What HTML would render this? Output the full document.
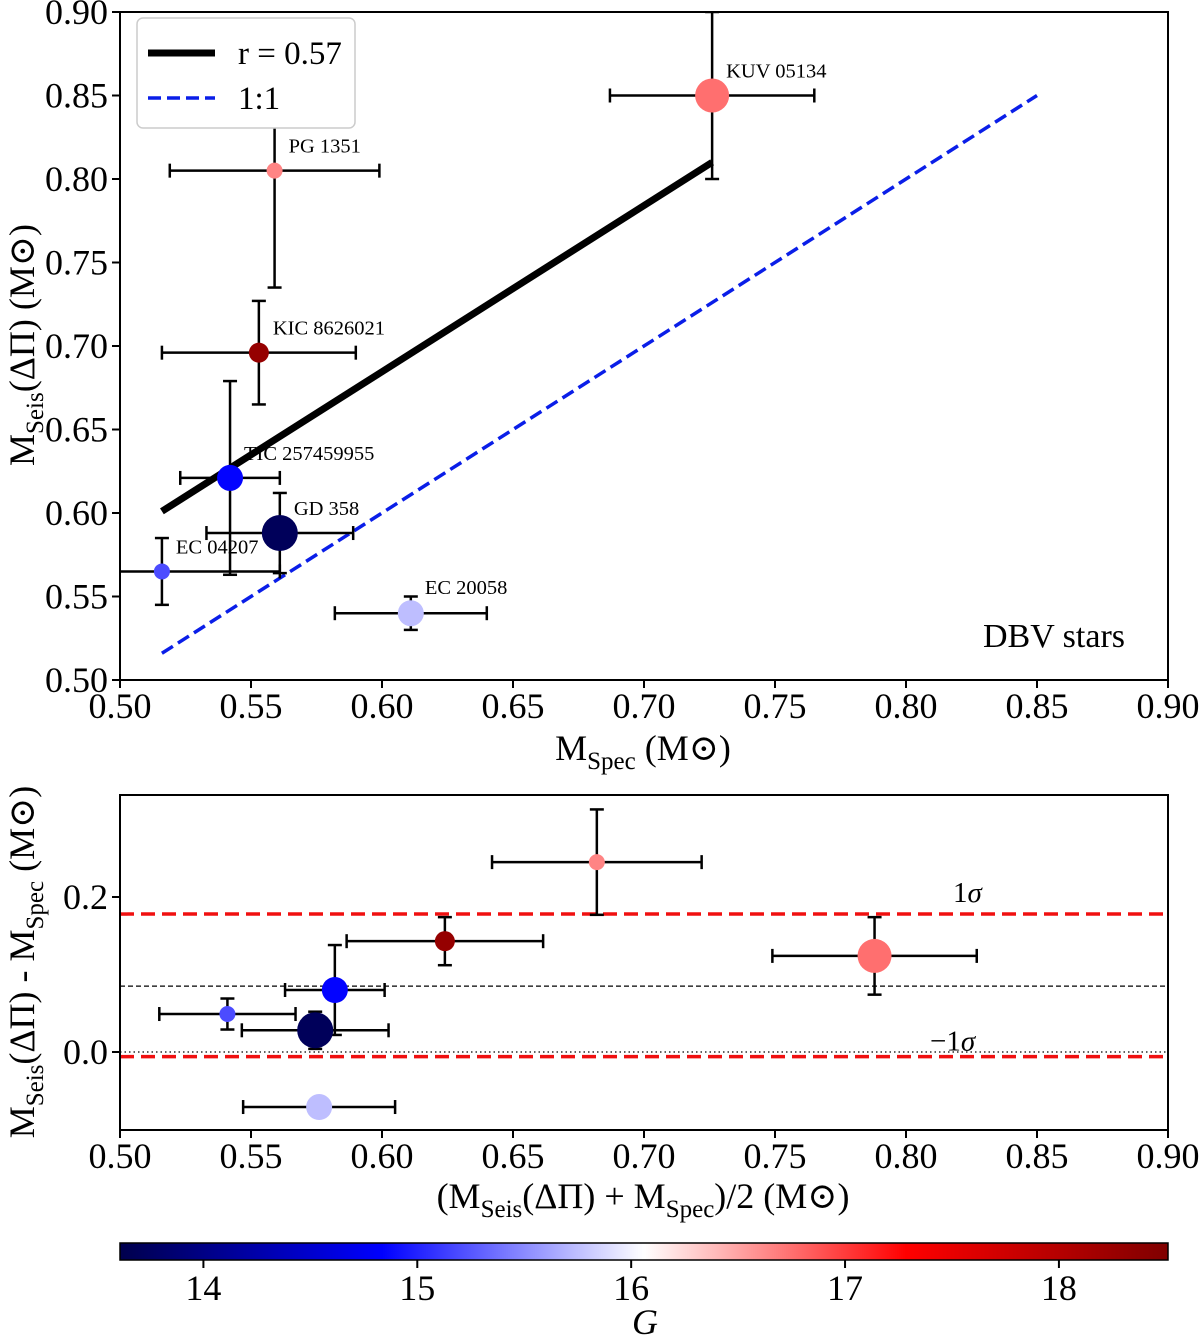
<!DOCTYPE html>
<html><head><meta charset="utf-8">
<style>
html,body{margin:0;padding:0;background:#fff;}
svg{display:block;font-family:"Liberation Serif","DejaVu Serif",serif;}
</style></head>
<body>
<svg id="fig" width="1200" height="1340" viewBox="0 0 1200 1340" xmlns="http://www.w3.org/2000/svg">
<defs><linearGradient id="cbgrad" x1="0" x2="1" y1="0" y2="0"></linearGradient></defs>
</svg>
<script>
// ---- data ----
const starNames = ["KUV 05134","PG 1351","KIC 8626021","TIC 257459955","GD 358","EC 04207","EC 20058"];
const mSpec = [0.726,0.559,0.553,0.542,0.561,0.516,0.611];
const mSpecErr = [0.039,0.040,0.037,0.019,0.028,0.045,0.029];
const mSeis = [0.850,0.805,0.696,0.621,0.588,0.565,0.540];
const mSeisErr = [0.050,0.070,0.031,0.058,0.024,0.020,0.010];
const gMag = [16.75,16.65,18.3,14.85,13.7,15.2,15.75];
const markerR = [17,8,10,13,18,8,13];
const meanX = [0.788,0.682,0.624,0.582,0.5745,0.541,0.576];
const meanXErr = [0.039,0.040,0.0375,0.019,0.028,0.026,0.029];
const diffY = [0.124,0.245,0.143,0.080,0.028,0.049,-0.071];
const diffYErr = [0.050,0.068,0.031,0.058,0.024,0.020,0.010];
const fitX = [0.516,0.726];
const fitY = [0.601,0.810];
const oneX = [0.516,0.85];
const oneY = [0.516,0.85];
const sigmaLines = [0.178,-0.006];
const meanLine = [0.085];
const xTicks = [0.50,0.55,0.60,0.65,0.70,0.75,0.80,0.85,0.90];
const yTicksTop = [0.50,0.55,0.60,0.65,0.70,0.75,0.80,0.85,0.90];
const yTicksBot = [0.0,0.2];
const cbTicks = [14,15,16,17,18];
const gRange = [13.61,18.51];

// ---- helpers ----
const NS="http://www.w3.org/2000/svg";
const svg=document.getElementById('fig');
function mk(tag,attrs,parent){const e=document.createElementNS(NS,tag);for(const k in attrs)e.setAttribute(k,attrs[k]);(parent||svg).appendChild(e);return e;}
function lin(d0,d1,r0,r1){return v=>r0+(v-d0)*(r1-r0)/(d1-d0);}
function seismic(t){
  const st=[[0,0,0,0.3],[0.25,0,0,1],[0.5,1,1,1],[0.75,1,0,0],[1,0.5,0,0]];
  t=Math.max(0,Math.min(1,t));
  for(let i=0;i<4;i++){const a=st[i],b=st[i+1];if(t<=b[0]){const f=(t-a[0])/(b[0]-a[0]);
    return 'rgb('+[1,2,3].map(j=>Math.round(255*(a[j]+f*(b[j]-a[j])))).join(',')+')';}}
  return 'rgb(128,0,0)';
}
const gNorm=lin(gRange[0],gRange[1],0,1);

// ---- top panel ----
const X1=lin(0.5,0.9,120,1168), Y1=lin(0.5,0.9,680,12);
const topG=mk('g',{});


const clip=mk('clipPath',{id:'c1'});mk('rect',{x:120,y:12,width:1048,height:668},clip);
const clip2=mk('clipPath',{id:'c2'});mk('rect',{x:120,y:795,width:1048,height:335},clip2);

const fitLine=mk('line',{x1:X1(fitX[0]),y1:Y1(fitY[0]),x2:X1(fitX[1]),y2:Y1(fitY[1]),stroke:'#000','stroke-width':7},topG);


const oneLine=mk('line',{x1:X1(oneX[0]),y1:Y1(oneY[0]),x2:X1(oneX[1]),y2:Y1(oneY[1]),stroke:'#0a1ee8','stroke-width':3.5,'stroke-dasharray':'13,6'},topG);



function errPoint(g,X,Y,x,xe,y,ye,r,col,name,clipId){
  const grp=mk('g',{'clip-path':'url(#'+clipId+')'},g);
  
  
  const s={stroke:'#000','stroke-width':2.5};
  mk('line',Object.assign({x1:X(x-xe),x2:X(x+xe),y1:Y(y),y2:Y(y)},s),grp);
  mk('line',Object.assign({x1:X(x),x2:X(x),y1:Y(y-ye),y2:Y(y+ye)},s),grp);
  [[X(x-xe),Y(y),0],[X(x+xe),Y(y),0],[X(x),Y(y-ye),1],[X(x),Y(y+ye),1]].forEach(c=>{
    if(c[2]) mk('line',Object.assign({x1:c[0]-7,x2:c[0]+7,y1:c[1],y2:c[1]},s),grp);
    else mk('line',Object.assign({x1:c[0],x2:c[0],y1:c[1]-7,y2:c[1]+7},s),grp);
  });
  mk('circle',{cx:X(x),cy:Y(y),r:r,fill:col},grp);
}
for(let i=0;i<starNames.length;i++){
  errPoint(topG,X1,Y1,mSpec[i],mSpecErr[i],mSeis[i],mSeisErr[i],markerR[i],seismic(gNorm(gMag[i])),'star-point-top','c1');
  const t=mk('text',{x:X1(mSpec[i])+14,y:Y1(mSeis[i])-(i==6?3:18)-(i==6?16:0),'font-size':20.5},topG);
  t.textContent=starNames[i];
  
  
}
// legend
const leg=mk('g',{},topG);


mk('rect',{x:137,y:18,width:218,height:110,rx:6,fill:'#fff',stroke:'#ccc','stroke-width':1.5},leg);
mk('line',{x1:148,x2:215,y1:53,y2:53,stroke:'#000','stroke-width':7},leg);
let lt=mk('text',{x:238,y:64,'font-size':33},leg);lt.textContent='r = 0.57';
mk('line',{x1:148,x2:215,y1:98,y2:98,stroke:'#0a1ee8','stroke-width':3.5,'stroke-dasharray':'13,6'},leg);
lt=mk('text',{x:238,y:109,'font-size':33},leg);lt.textContent='1:1';
const dbv=mk('text',{x:1125,y:647,'font-size':34,'text-anchor':'end'},topG);dbv.textContent='DBV stars';



function frame(g,x0,y0,x1,y1){mk('rect',{x:x0,y:y0,width:x1-x0,height:y1-y0,fill:'none',stroke:'#000','stroke-width':2},g);}
frame(topG,120,12,1168,680);
xTicks.forEach(v=>{mk('line',{x1:X1(v),x2:X1(v),y1:680,y2:688,stroke:'#000','stroke-width':2},topG);
  const t=mk('text',{x:X1(v),y:718,'font-size':36,'text-anchor':'middle'},topG);t.textContent=v.toFixed(2);
  
  });
yTicksTop.forEach(v=>{mk('line',{x1:112,x2:120,y1:Y1(v),y2:Y1(v),stroke:'#000','stroke-width':2},topG);
  const t=mk('text',{x:108,y:Y1(v)+12,'font-size':36,'text-anchor':'end'},topG);t.textContent=v.toFixed(2);
  
  });
let xl=mk('text',{x:643,y:760,'font-size':36,'text-anchor':'middle'},topG);
xl.innerHTML='M<tspan font-size="25" dy="9">Spec</tspan><tspan dy="-9"> (M⊙)</tspan>';


let yl=mk('text',{x:0,y:0,'font-size':36,'text-anchor':'middle',transform:'translate(34,345) rotate(-90)'},topG);
yl.innerHTML='M<tspan font-size="25" dy="9">Seis</tspan><tspan dy="-9">(ΔΠ) (M⊙)</tspan>';



// ---- bottom panel ----
const X2=lin(0.5,0.9,120,1168), Y2=lin(0,0.2,1052,897);
const bot=mk('g',{});


sigmaLines.forEach(v=>{const l=mk('line',{x1:120,x2:1168,y1:Y2(v),y2:Y2(v),stroke:'#f01010','stroke-width':3.5,'stroke-dasharray':'14,7'},bot);
  
  });
meanLine.forEach(v=>{const l=mk('line',{x1:120,x2:1168,y1:Y2(v),y2:Y2(v),stroke:'#000','stroke-width':1.3,'stroke-dasharray':'5,3'},bot);
  
  });
const zl=mk('line',{x1:120,x2:1168,y1:Y2(0),y2:Y2(0),stroke:'#000','stroke-width':1.3,'stroke-dasharray':'1.5,3'},bot);


let s1=mk('text',{x:953,y:Y2(sigmaLines[0])-12,'font-size':29},bot);s1.innerHTML='1<tspan font-style="italic">σ</tspan>';


let s2=mk('text',{x:930,y:Y2(sigmaLines[1])-6,'font-size':29},bot);s2.innerHTML='−1<tspan font-style="italic">σ</tspan>';


for(let i=0;i<starNames.length;i++){
  errPoint(bot,X2,Y2,meanX[i],meanXErr[i],diffY[i],diffYErr[i],markerR[i],seismic(gNorm(gMag[i])),'star-point-bottom','c2');
}
frame(bot,120,795,1168,1130);
xTicks.forEach(v=>{mk('line',{x1:X2(v),x2:X2(v),y1:1130,y2:1138,stroke:'#000','stroke-width':2},bot);
  const t=mk('text',{x:X2(v),y:1168,'font-size':36,'text-anchor':'middle'},bot);t.textContent=v.toFixed(2);
  
  });
yTicksBot.forEach(v=>{mk('line',{x1:112,x2:120,y1:Y2(v),y2:Y2(v),stroke:'#000','stroke-width':2},bot);
  const t=mk('text',{x:108,y:Y2(v)+12,'font-size':36,'text-anchor':'end'},bot);t.textContent=v.toFixed(1);
  
  });
xl=mk('text',{x:643,y:1208,'font-size':36,'text-anchor':'middle'},bot);
xl.innerHTML='(M<tspan font-size="25" dy="9">Seis</tspan><tspan dy="-9">(ΔΠ) + M</tspan><tspan font-size="25" dy="9">Spec</tspan><tspan dy="-9">)/2 (M⊙)</tspan>';


yl=mk('text',{x:0,y:0,'font-size':36,'text-anchor':'middle',transform:'translate(34,962) rotate(-90)'},bot);
yl.innerHTML='M<tspan font-size="25" dy="9">Seis</tspan><tspan dy="-9">(ΔΠ) - M</tspan><tspan font-size="25" dy="9">Spec</tspan><tspan dy="-9"> (M⊙)</tspan>';



// ---- colorbar ----
const grad=document.getElementById('cbgrad');
for(let k=0;k<=40;k++){mk('stop',{offset:k/40,'stop-color':seismic(k/40)},grad);}
const cb=mk('g',{});


mk('rect',{x:120,y:1243,width:1048,height:17,fill:'url(#cbgrad)',stroke:'#000','stroke-width':1.5},cb);
const XC=lin(gRange[0],gRange[1],120,1168);
cbTicks.forEach(v=>{mk('line',{x1:XC(v),x2:XC(v),y1:1260,y2:1268,stroke:'#000','stroke-width':2},cb);
  const t=mk('text',{x:XC(v),y:1300,'font-size':36,'text-anchor':'middle'},cb);t.textContent=v;
  
  });
const gl=mk('text',{x:645,y:1334,'font-size':36,'font-style':'italic','text-anchor':'middle'},cb);gl.textContent='G';


</script>
</body></html>
